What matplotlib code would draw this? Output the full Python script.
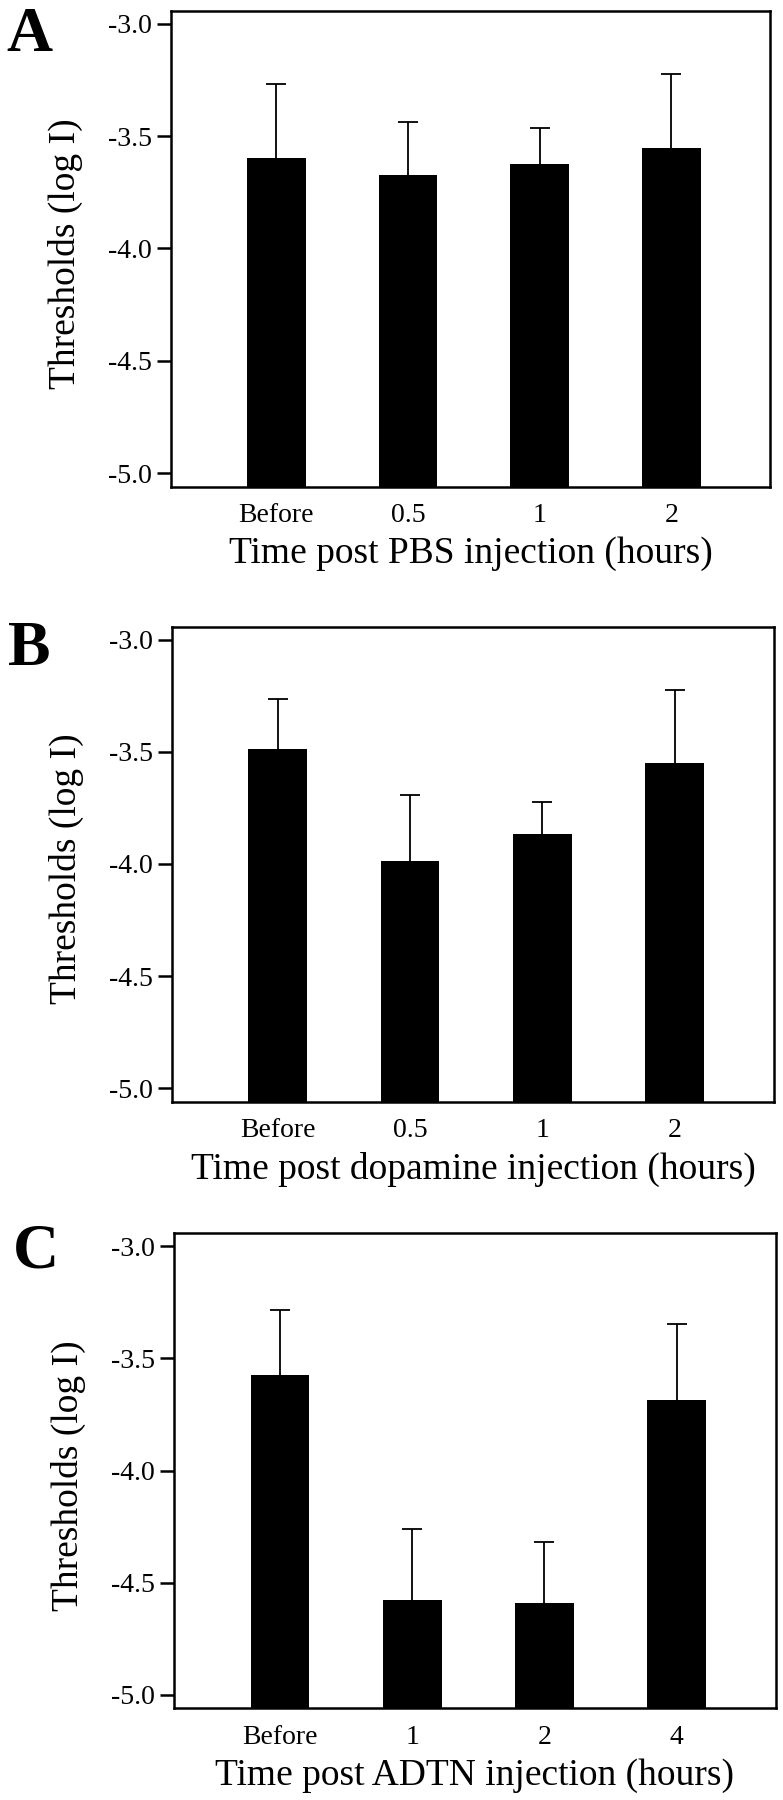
import numpy as np
import matplotlib
matplotlib.use('Agg')
import matplotlib.pyplot as plt

plt.rcParams['font.family'] = ['Liberation Serif', 'DejaVu Serif']

# thresholds (log I), mean and top of the error bar
labels_a = ['Before', '0.5', '1', '2']
mean_a = [-3.598, -3.672, -3.626, -3.553]
top_a = [-3.270, -3.436, -3.463, -3.223]

labels_b = ['Before', '0.5', '1', '2']
mean_b = [-3.490, -3.986, -3.868, -3.551]
top_b = [-3.266, -3.694, -3.725, -3.225]

labels_c = ['Before', '1', '2', '4']
mean_c = [-3.576, -4.577, -4.592, -3.686]
top_c = [-3.285, -4.262, -4.320, -3.346]

panels = [
    ('A', labels_a, mean_a, top_a, 'Time post PBS injection (hours)',
     [0.2184, 0.7296, 0.7650, 0.2644], (0.008, 0.9715)),
    ('B', labels_b, mean_b, top_b, 'Time post dopamine injection (hours)',
     [0.2197, 0.3879, 0.7685, 0.2639], (0.010, 0.6306)),
    ('C', labels_c, mean_c, top_c, 'Time post ADTN injection (hours)',
     [0.2226, 0.0509, 0.7680, 0.2639], (0.016, 0.2960)),
]

fig = plt.figure(figsize=(7.83, 18), dpi=100)

for letter, labels, mean, top, xlabel, rect, lpos in panels:
    ax = fig.add_axes(rect)
    x = np.arange(len(labels))
    mean = np.array(mean)
    err = np.array(top) - mean
    base = -5.06
    ax.bar(x, mean - base, bottom=base, width=0.445, color='black', zorder=2)
    eb = ax.errorbar(x, mean, yerr=[np.zeros_like(err), err], fmt='none',
                     ecolor='black', elinewidth=1.3, capsize=7, capthick=1.3, zorder=1)
    # only the upper cap is visible in the original
    eb[1][0].set_visible(False)
    ax.set_xlim(-0.80, 3.75)
    ax.set_ylim(-5.06, -2.943)
    ax.set_yticks([-3.0, -3.5, -4.0, -4.5, -5.0])
    ax.set_yticklabels(['-3.0', '-3.5', '-4.0', '-4.5', '-5.0'])
    ax.set_xticks(x)
    ax.set_xticklabels(labels)
    ax.tick_params(axis='x', length=0, pad=12, labelsize=20)
    ax.tick_params(axis='y', length=10, width=1.8, pad=4, labelsize=20)
    for s in ax.spines.values():
        s.set_linewidth(1.8)
    ax.set_xlabel(xlabel, fontsize=27, labelpad=6)
    ax.set_ylabel('Thresholds (log I)', fontsize=27)
    ax.yaxis.set_label_coords(-0.147, 0.49)
    fig.text(lpos[0], lpos[1], letter, fontsize=46, fontweight='bold',
             ha='left', va='baseline')

fig.savefig('out.png', dpi=100)
